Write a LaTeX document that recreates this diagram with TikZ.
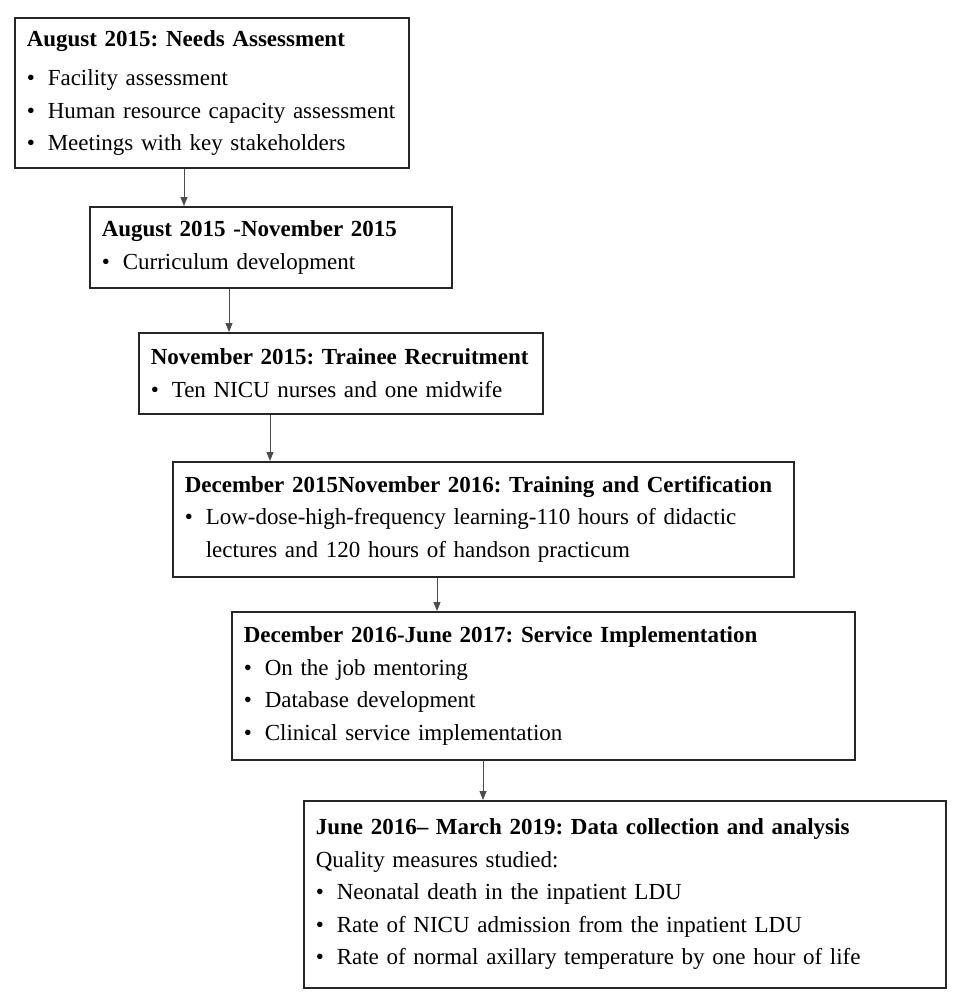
\documentclass[tikz,border=0pt]{standalone}
\usepackage{fontspec}
\setmainfont{Liberation Serif}
\usetikzlibrary{arrows.meta}
\newcommand{\bl}{\makebox[21pt][l]{\textbullet}}
\newcommand{\boxfont}{\fontsize{23}{32.5}\selectfont\frenchspacing\hyphenpenalty=10000\relax\exhyphenpenalty=10000\relax}
\begin{document}
\begin{tikzpicture}[x=1pt,y=-1pt,
  box/.style={draw=black!85, line width=1.6pt, rectangle, anchor=north west, align=left,
    inner xsep=12pt, inner ysep=0pt, font=\boxfont},
  arr/.style={draw=black!70, line width=0.9pt, -{Triangle[length=9pt,width=7pt]}}]
\useasboundingbox (0,0) rectangle (957,1006);
\node[box, minimum width=394pt, minimum height=150pt, text width=370pt] (b1) at (14,17)
  {\mbox{\textbf{August 2015: Needs Assessment}}\\[7pt]
   \bl Facility assessment\\
   \bl \mbox{Human resource capacity assessment}\\
   \bl Meetings with key stakeholders};
\node[box, minimum width=362pt, minimum height=81pt, text width=338pt] (b2) at (89,206)
  {\mbox{\textbf{August 2015 -November 2015}}\\
   \bl Curriculum development};
\node[box, minimum width=404pt, minimum height=81pt, text width=380pt] (b3) at (138,332)
  {\mbox{\textbf{November 2015: Trainee Recruitment}}\\
   \bl Ten NICU nurses and one midwife};
\node[box, minimum width=621pt, minimum height=115pt, text width=597pt] (b4) at (172,461)
  {\mbox{\textbf{December 2015November 2016: Training and Certification}}\\
   \bl\mbox{Low-dose-high-frequency learning-110 hours of didactic}\\
   \hspace*{21pt}\mbox{lectures and 120 hours of handson practicum}};
\node[box, minimum width=623pt, minimum height=148pt, text width=599pt] (b5) at (231,611)
  {\mbox{\textbf{December 2016-June 2017: Service Implementation}}\\
   \bl On the job mentoring\\
   \bl Database development\\
   \bl Clinical service implementation};
\node[box, minimum width=642pt, minimum height=187pt, text width=618pt] (b6) at (303,800)
  {\mbox{\textbf{June 2016– March 2019: Data collection and analysis}}\\
   Quality measures studied:\\
   \bl Neonatal death in the inpatient LDU\\
   \bl Rate of NICU admission from the inpatient LDU\\
   \bl Rate of normal axillary temperature by one hour of life};
\coordinate (a1) at (184,0);
\coordinate (a2) at (229,0);
\coordinate (a3) at (270,0);
\coordinate (a4) at (437,0);
\coordinate (a5) at (483,0);
\draw[arr] (b1.south -| a1) -- (b2.north -| a1);
\draw[arr] (b2.south -| a2) -- (b3.north -| a2);
\draw[arr] (b3.south -| a3) -- (b4.north -| a3);
\draw[arr] (b4.south -| a4) -- (b5.north -| a4);
\draw[arr] (b5.south -| a5) -- (b6.north -| a5);
\end{tikzpicture}
\end{document}
